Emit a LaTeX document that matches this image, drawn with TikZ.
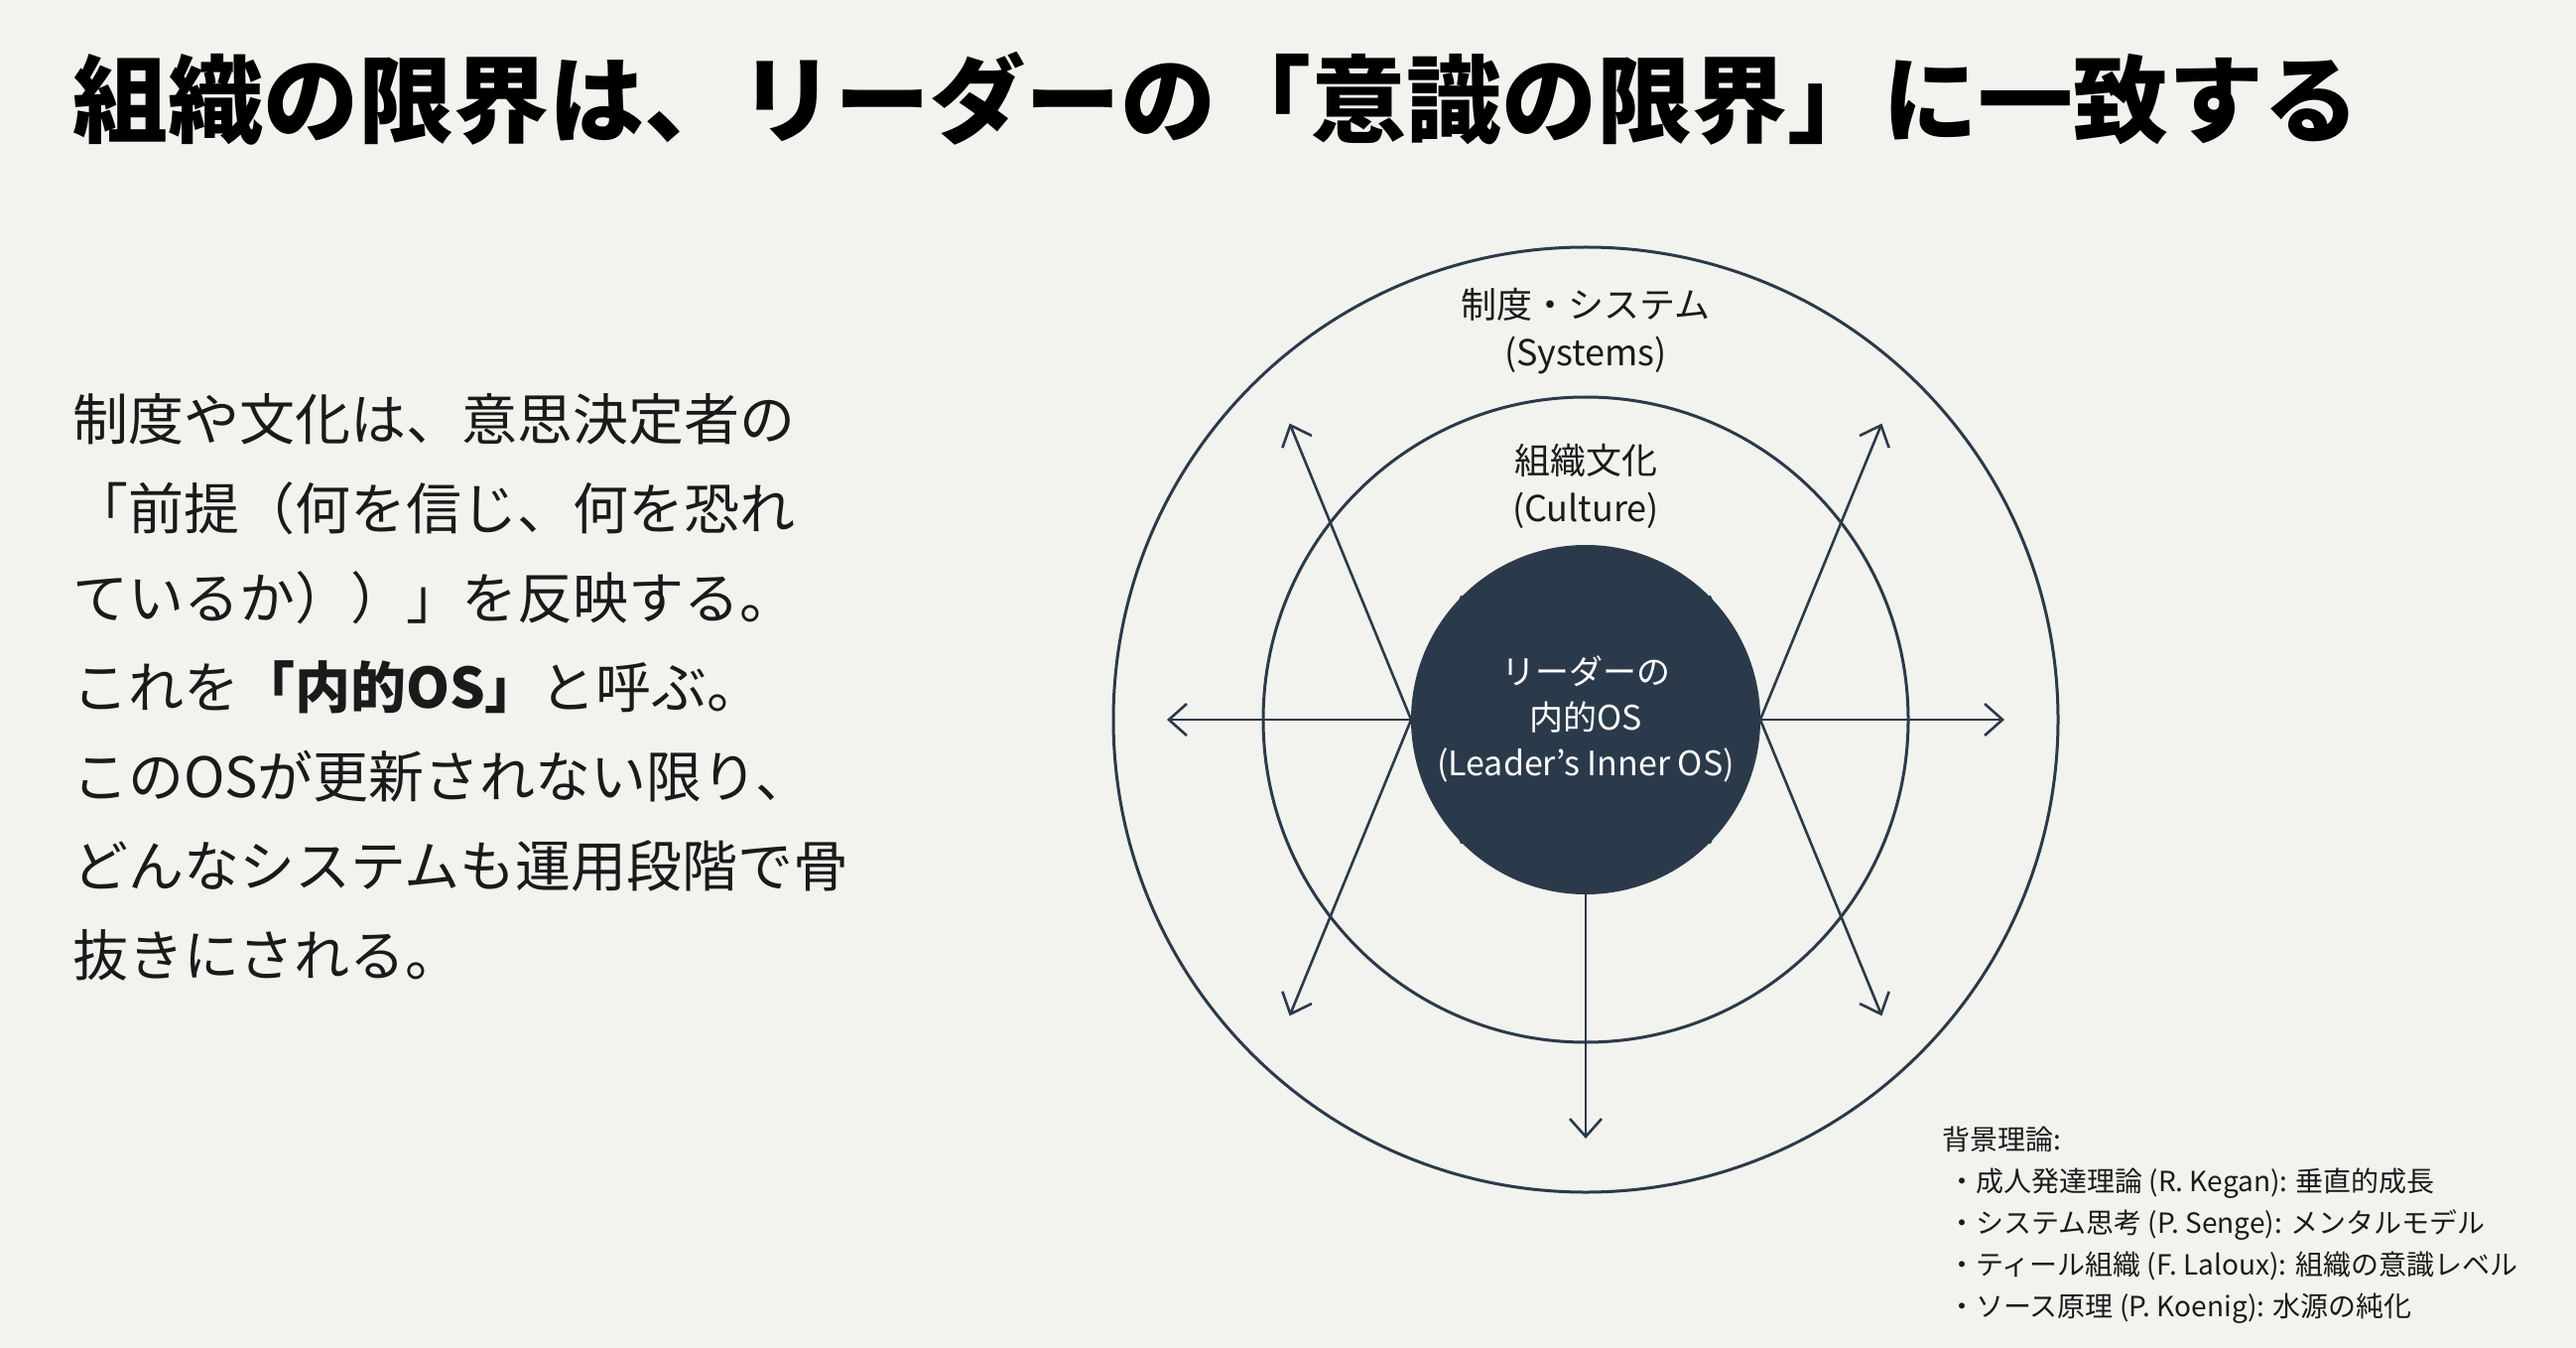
\documentclass[tikz,border=0pt]{standalone}
\usepackage{fontspec}
\setmainfont{Noto Sans CJK JP}
\usetikzlibrary{arrows.meta,calc}
\definecolor{bg}{HTML}{F2F2EE}
\definecolor{ink}{HTML}{2B3A4A}
\definecolor{txt}{HTML}{1A1A1A}
\begin{document}
\begin{tikzpicture}[x=0.5pt,y=-0.5pt,
  ring/.style={draw=ink,line width=1.5pt},
  ray/.style={draw=ink,line width=1.3pt,-{Straight Barb[length=9pt,width=16pt,line width=1.3pt]}},
  lbl/.style={align=center,text=txt,font=\fontsize{18}{24}\selectfont},
  body/.style={anchor=west,text=txt,font=\fontsize{28}{28}\selectfont}]
\fill[bg] (0,0) rectangle (2596,1358);
\useasboundingbox (0,0) rectangle (2596,1358);
\node[anchor=west,text=black,font=\fontsize{48}{48}\bfseries\selectfont] (title) at (66,99) {組織の限界は、リーダーの「意識の限界」に一致する};
\node[body] (l1) at (66,422) {制度や文化は、意思決定者の};
\node[body] (l2) at (66,512) {「前提（何を信じ、何を恐れ};
\node[body] (l3) at (66,602) {ているか））」を反映する。};
\node[body] (l4) at (66,692) {これを{\bfseries「内的OS」}と呼ぶ。};
\node[body] (l5) at (66,782) {このOSが更新されない限り、};
\node[body] (l6) at (66,872) {どんなシステムも運用段階で骨};
\node[body] (l7) at (66,962) {抜きにされる。};
\coordinate (c) at (1598,725);
\draw[ring] (c) circle[radius=476];
\draw[ring] (c) circle[radius=325];
\node[circle,fill=ink,minimum size=176pt,inner sep=0pt] (core) at (c) {};
\foreach \a in {0,45,135,180,225,270,315}{
  \path (c) ++(-\a:422) coordinate (t\a);
  \draw[ray] (core.-\a) -- (t\a);
}
\node[lbl] (sys) at (1598,334) {制度・システム\\(Systems)};
\node[lbl] (cul) at (1598,490) {組織文化\\(Culture)};
\node[lbl,text=white,font=\fontsize{17}{23}\selectfont] (os) at (1598,724) {リーダーの\\内的OS\\(Leader's Inner OS)};
\node[anchor=north west,align=left,text=txt,font=\fontsize{14}{21}\selectfont] (notes) at (1950,1128) {背景理論:\\
\ ・成人発達理論 (R. Kegan): 垂直的成長\\
\ ・システム思考 (P. Senge): メンタルモデル\\
\ ・ティール組織 (F. Laloux): 組織の意識レベル\\
\ ・ソース原理 (P. Koenig): 水源の純化};
\end{tikzpicture}
\end{document}
